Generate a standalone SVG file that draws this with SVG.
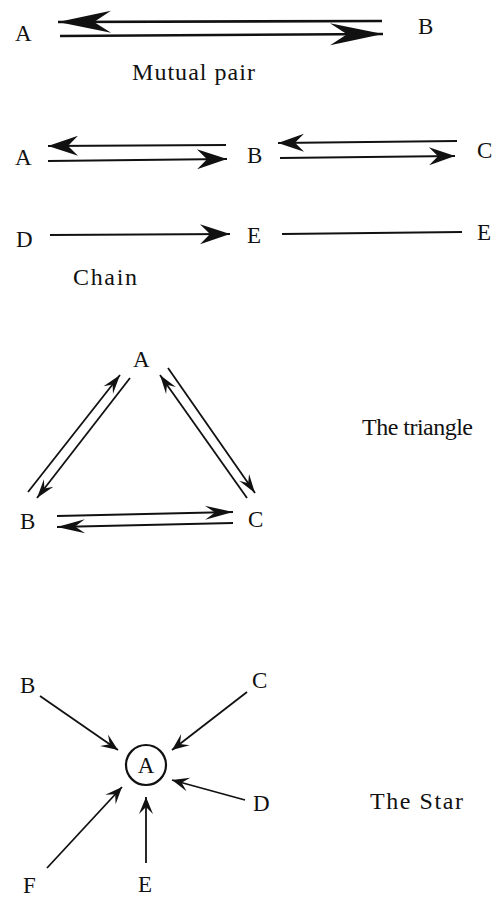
<svg xmlns="http://www.w3.org/2000/svg" width="502" height="897" viewBox="0 0 502 897">
<style>
text{font-family:"Liberation Serif","Times New Roman",serif;fill:#111;font-size:23px}
.cap{font-size:24px}
line{stroke:#111;fill:none}
.thick{stroke-width:2.6}
.med{stroke-width:2.2}
.thin{stroke-width:1.8}
circle{fill:none;stroke:#111;stroke-width:2.2}
</style>
<defs>
<marker id="big" markerUnits="userSpaceOnUse" viewBox="-56 -12 58 24" refX="0" refY="0" markerWidth="58" markerHeight="24" orient="auto" overflow="visible">
<path d="M0,0 L-53,-11 L-36,0 L-53,11 Z" fill="#111"/>
</marker>
<marker id="mid" markerUnits="userSpaceOnUse" viewBox="-32 -11 34 22" refX="0" refY="0" markerWidth="34" markerHeight="22" orient="auto" overflow="visible">
<path d="M0,0 L-30,-10 L-20,0 L-30,10 Z" fill="#111"/>
</marker>
<marker id="mid2" markerUnits="userSpaceOnUse" viewBox="-32 -11 34 22" refX="0" refY="0" markerWidth="34" markerHeight="22" orient="auto" overflow="visible">
<path d="M0,0 L-26,-9 L-17,0 L-26,9 Z" fill="#111"/>
</marker>
<marker id="tri" markerUnits="userSpaceOnUse" viewBox="-20 -8 22 16" refX="0" refY="0" markerWidth="22" markerHeight="16" orient="auto" overflow="visible">
<path d="M0,0 L-19,-6 L-12,0 L-19,6 Z" fill="#111"/>
</marker>
<marker id="triw" markerUnits="userSpaceOnUse" viewBox="-30 -8 32 16" refX="0" refY="0" markerWidth="32" markerHeight="16" orient="auto" overflow="visible">
<path d="M0,0 L-28,-7 L-18,0 L-28,7 Z" fill="#111"/>
</marker>
<marker id="star" markerUnits="userSpaceOnUse" viewBox="-18 -8 20 16" refX="0" refY="0" markerWidth="20" markerHeight="16" orient="auto" overflow="visible">
<path d="M0,0 L-17,-7 L-10,0 L-17,7 Z" fill="#111"/>
</marker>
</defs>

<g id="connectors">
<!-- Mutual pair -->
<line class="thick" x1="382" y1="21" x2="58" y2="22" marker-end="url(#big)"/>
<line class="thick" x1="60" y1="36" x2="383" y2="34" marker-end="url(#big)"/>
<!-- Chain -->
<line class="med" x1="226" y1="145" x2="48" y2="146" marker-end="url(#mid)"/>
<line class="med" x1="48" y1="161" x2="227" y2="159" marker-end="url(#mid)"/>
<line class="med" x1="457" y1="141" x2="278" y2="143" marker-end="url(#mid2)"/>
<line class="med" x1="280" y1="158" x2="455" y2="156" marker-end="url(#mid2)"/>
<line class="med" x1="50" y1="235" x2="230" y2="234" marker-end="url(#mid)"/>
<line class="med" x1="282" y1="234" x2="462" y2="232"/>
<!-- Triangle -->
<line class="thin" x1="28" y1="492" x2="120" y2="375" marker-end="url(#tri)"/>
<line class="thin" x1="130" y1="378" x2="37" y2="498" marker-end="url(#tri)"/>
<line class="thin" x1="247" y1="498" x2="160" y2="375" marker-end="url(#tri)"/>
<line class="thin" x1="168" y1="368" x2="255" y2="493" marker-end="url(#tri)"/>
<line class="thin" x1="57" y1="516" x2="233" y2="512" marker-end="url(#triw)"/>
<line class="thin" x1="233" y1="523" x2="57" y2="527" marker-end="url(#triw)"/>
<!-- Star -->
<line class="thin" x1="40" y1="696" x2="118" y2="750" marker-end="url(#star)"/>
<line class="thin" x1="247" y1="692" x2="172" y2="750" marker-end="url(#star)"/>
<line class="thin" x1="245" y1="800" x2="172" y2="780" marker-end="url(#star)"/>
<line class="thin" x1="146" y1="863" x2="146" y2="797" marker-end="url(#star)"/>
<line class="thin" x1="47" y1="868" x2="122" y2="787" marker-end="url(#star)"/>
</g>

<g id="mp-A"><text x="15" y="41">A</text></g>
<g id="mp-B"><text x="418" y="34">B</text></g>
<text class="cap" x="132" y="80" textLength="123" lengthAdjust="spacing">Mutual  pair</text>

<g id="ch-A"><text x="15" y="165">A</text></g>
<g id="ch-B"><text x="247" y="163">B</text></g>
<g id="ch-C"><text x="477" y="158">C</text></g>
<g id="ch-D"><text x="16" y="247">D</text></g>
<g id="ch-E1"><text x="247" y="243">E</text></g>
<g id="ch-E2"><text x="477" y="240">E</text></g>
<text class="cap" x="73" y="285" textLength="64" lengthAdjust="spacing">Chain</text>

<g id="tr-A"><text x="133" y="367">A</text></g>
<g id="tr-B"><text x="20" y="529">B</text></g>
<g id="tr-C"><text x="248" y="527">C</text></g>
<text class="cap" x="362" y="435" textLength="111" lengthAdjust="spacing">The  triangle</text>

<g id="st-A"><circle cx="146" cy="765" r="20"/><text x="146" y="773" text-anchor="middle">A</text></g>
<g id="st-B"><text x="20" y="693">B</text></g>
<g id="st-C"><text x="252" y="688">C</text></g>
<g id="st-D"><text x="253" y="811">D</text></g>
<g id="st-E"><text x="138" y="892">E</text></g>
<g id="st-F"><text x="23" y="893">F</text></g>
<text class="cap" x="370" y="809" textLength="93" lengthAdjust="spacing">The  Star</text>
</svg>
